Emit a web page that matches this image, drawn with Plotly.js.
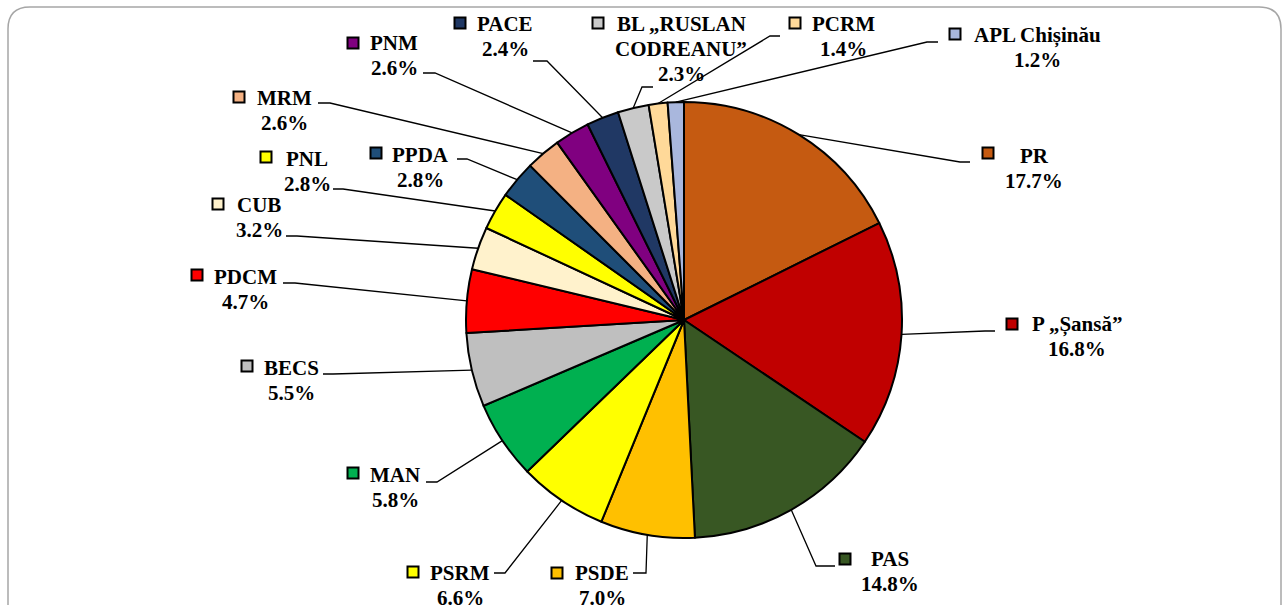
<!DOCTYPE html>
<html>
<head>
<meta charset="utf-8">
<script src="https://cdn.plot.ly/plotly-3.0.1.min.js"></script>
<style>
  html, body { margin: 0; padding: 0; background: #fff; }
  #grafic { width: 1284px; height: 605px; }
</style>
</head>
<body>
<div id="grafic"></div>
<script>
// date din sondaj
const partide = ['PR', 'P „Șansă”', 'PAS', 'PSDE', 'PSRM', 'MAN', 'BECS', 'PDCM', 'CUB', 'PNL',
    'PPDA', 'MRM', 'PNM', 'PACE', 'BL „RUSLAN\nCODREANU”', 'PCRM', 'APL Chișinău'];
const procente = [17.7, 16.8, 14.8, 7.0, 6.6, 5.8, 5.5, 4.7, 3.2, 2.8, 2.8, 2.6, 2.6, 2.4, 2.3, 1.4, 1.2];
const culori = ['#C55A11', '#C00000', '#385723', '#FFC000', '#FFFF00', '#00B050', '#BFBFBF', '#FF0000',
    '#FFF2CC', '#FFFF00', '#1F4E79', '#F4B183', '#800080', '#203864', '#C9C9C9', '#FFD999', '#A9B7DD'];

// pozitii etichete (pixeli): centrul textului, primul rand
const etichete = [[1034, 156], [1077, 324], [890, 559], [602, 573], [460, 573], [395, 475], [291, 368],
    [245, 277], [259, 205], [307, 159], [420, 155], [284, 98], [394, 43], [505, 24], [681, 24], [843, 24], [1037, 35]];
// patratele de legenda
const chei = [[988, 153], [1012, 324], [845, 559], [557, 573], [413, 572], [353, 473], [247, 366],
    [197, 275], [218, 204], [266, 157], [376, 153], [239, 97], [353, 43], [460, 23], [598, 23], [795, 23], [955, 34]];
// linii de legatura: [x capat, x cot, y]
const linii = [[970, 960, 162], [995, 985, 331], [835, 816, 566], [633, 646, 573], [494, 505, 573],
    [426, 437, 482], [323, 333, 374], [283, 295, 283], [286, 297, 236], [333, 343, 189], [457, 467, 159],
    [318, 330, 103], [423, 435, 73], [533, 547, 61], [653, 642, 87], [780, 770, 36], [938, 927, 42]];

const W = 1284, H = 605;
const cx = 684, cy = 320, r = 218;
const px = x => x / W;
const py = y => 1 - y / H;

var trace1 = {
    type: 'pie',
    values: procente,
    labels: partide.map(p => p.replace('\n', ' ')),
    sort: false,
    direction: 'clockwise',
    rotation: 0,
    textinfo: 'none',
    hoverinfo: 'label+percent',
    showlegend: false,
    marker: { colors: culori, line: { color: '#000000', width: 2 } },
    domain: { x: [px(cx - r), px(cx + r)], y: [py(cy + r), py(cy - r)] }
};

var shapes = [];
var annotations = [];

// rama rotunjita
const rx0 = 8, ry0 = 7, rx1 = 1281, ry1 = 606, rr = 22;
shapes.push({
    type: 'path', xref: 'paper', yref: 'paper',
    path: `M ${px(rx0)},${py(ry1)} L ${px(rx0)},${py(ry0 + rr)} Q ${px(rx0)},${py(ry0)} ${px(rx0 + rr)},${py(ry0)} ` +
          `L ${px(rx1 - rr)},${py(ry0)} Q ${px(rx1)},${py(ry0)} ${px(rx1)},${py(ry0 + rr)} L ${px(rx1)},${py(ry1)}`,
    line: { color: '#A6A6A6', width: 1.5 }
});

const total = procente.reduce((a, b) => a + b, 0);
let cum = 0;
for (let i = 0; i < procente.length; i++) {
    let mid = (cum + procente[i] / 2) / total * 2 * Math.PI;
    cum += procente[i];
    let ex = cx + r * Math.sin(mid);
    let ey = cy - r * Math.cos(mid);
    let [x1, x2, ly] = linii[i];

    shapes.push({
        type: 'path', xref: 'paper', yref: 'paper',
        path: `M ${px(x1)},${py(ly)} L ${px(x2)},${py(ly)} L ${px(ex)},${py(ey)}`,
        line: { color: '#000000', width: 1.3 }
    });

    let [kx, ky] = chei[i];
    shapes.push({
        type: 'rect', xref: 'paper', yref: 'paper',
        x0: px(kx - 5.5), x1: px(kx + 5.5), y0: py(ky + 5.5), y1: py(ky - 5.5),
        fillcolor: culori[i],
        line: { color: '#000000', width: 2 }
    });

    let randuri = partide[i].split('\n').concat([procente[i].toFixed(1) + '%']);
    randuri.forEach((t, j) => {
        annotations.push({
            xref: 'paper', yref: 'paper',
            x: px(etichete[i][0]), y: py(etichete[i][1] + j * 25),
            xanchor: 'center', yanchor: 'middle',
            text: t,
            showarrow: false,
            font: { family: 'Liberation Serif', weight: 'bold', size: 21, color: '#000000' }
        });
    });
}

var layout = {
    width: W,
    height: H,
    margin: { l: 0, r: 0, t: 0, b: 0 },
    paper_bgcolor: '#ffffff',
    showlegend: false,
    font: { family: 'Liberation Serif' },
    shapes: shapes,
    annotations: annotations
};

Plotly.newPlot('grafic', [trace1], layout, { displayModeBar: false, staticPlot: true });
</script>
</body>
</html>
